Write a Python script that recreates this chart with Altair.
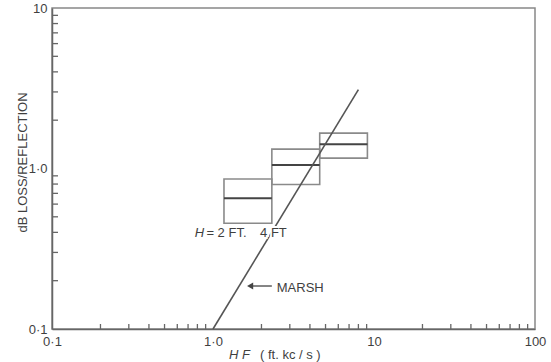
import altair as alt
import pandas as pd

# ---- data ----
hf_low = [1.17, 2.32, 4.6]
hf_high = [2.32, 4.6, 9.1]
loss_low = [0.456, 0.795, 1.16]
loss_mid = [0.652, 1.05, 1.415]
loss_high = [0.86, 1.32, 1.66]

marsh_hf = [1.0, 8.0]
marsh_loss = [0.1, 3.1]

major_ticks = [0.1, 1, 10, 100]
x_tick_labels = ["0·1", "1·0", "10", "100"]
y_major_ticks = [0.1, 1, 10]
y_tick_labels = ["0·1", "1·0", "10"]
minor_x = [0.2, 0.3, 0.4, 0.5, 0.6, 0.7, 0.8, 0.9,
           2, 3, 4, 5, 6, 7, 8, 9,
           20, 30, 40, 50, 60, 70, 80, 90]
minor_y = [0.2, 0.3, 0.4, 0.5, 0.6, 0.7, 0.8, 0.9,
           2, 3, 4, 5, 6, 7, 8, 9]

W, H = 483, 321
FONT = "Liberation Sans"
TXT = "#3f3f3f"
AX = "#666666"


def label_expr(vals, labs):
    expr = "datum.label"
    for v, l in reversed(list(zip(vals, labs))):
        expr = f"datum.value == {v} ? '{l}' : ({expr})"
    return expr


xs = alt.Scale(type="log", domain=[0.1, 100], nice=False)
ys = alt.Scale(type="log", domain=[0.1, 10], nice=False)

x_axis = alt.Axis(values=major_ticks, labelExpr=label_expr(major_ticks, x_tick_labels),
                  ticks=False, tickSize=0, grid=False, title=None, labelFlush=False,
                  labelPadding=6, labelFontSize=13, labelFont=FONT, labelColor=TXT,
                  domainColor=AX, domainWidth=1.5)
y_axis = alt.Axis(values=y_major_ticks, labelExpr=label_expr(y_major_ticks, y_tick_labels),
                  ticks=False, tickSize=0, grid=False, title="dB LOSS/REFLECTION",
                  titleFont=FONT, titleFontSize=13, titleFontWeight="normal", titleColor=TXT,
                  titleX=-30, titleY=154, titleAngle=270, titleAlign="center",
                  titleBaseline="middle",
                  labelFlush=False, labelPadding=5, labelFontSize=13, labelFont=FONT,
                  labelColor=TXT, domainColor=AX, domainWidth=1.5)

boxes = pd.DataFrame({"lo_x": hf_low, "hi_x": hf_high,
                      "lo": loss_low, "mid": loss_mid, "hi": loss_high})
marsh = pd.DataFrame({"hf": marsh_hf, "loss": marsh_loss})

box_layer = alt.Chart(boxes).mark_rect(fillOpacity=0, stroke="#8a8a8a", strokeWidth=1.6).encode(
    x=alt.X("lo_x:Q", scale=xs, axis=x_axis),
    x2="hi_x:Q",
    y=alt.Y("lo:Q", scale=ys, axis=y_axis),
    y2="hi:Q",
)
mid_layer = alt.Chart(boxes).mark_rule(color="#444444", strokeWidth=2).encode(
    x=alt.X("lo_x:Q", scale=xs), x2="hi_x:Q", y=alt.Y("mid:Q", scale=ys)
)
marsh_layer = alt.Chart(marsh).mark_line(color="#555555", strokeWidth=1.6).encode(
    x=alt.X("hf:Q", scale=xs), y=alt.Y("loss:Q", scale=ys)
)

mx = alt.Chart(pd.DataFrame({"v": minor_x})).mark_rule(color=AX, strokeWidth=1.3).encode(
    x=alt.X("v:Q", scale=xs), y=alt.value(H), y2=alt.value(H - 5)
)
my = alt.Chart(pd.DataFrame({"v": minor_y})).mark_rule(color=AX, strokeWidth=1.3).encode(
    y=alt.Y("v:Q", scale=ys), x=alt.value(0), x2=alt.value(6)
)

# annotations (data coordinates)
notes = pd.DataFrame({
    "t": ["= 2 FT.", "4 FT", "MARSH"],
    "x": [0.91, 1.96, 2.49],
    "y": [0.396, 0.396, 0.18],
})
# white knockout under the labels so the line breaks behind them
notes_bg = alt.Chart(notes).mark_text(align="left", baseline="middle", font=FONT,
                                       fontSize=13, color="white", stroke="white",
                                       strokeWidth=4).encode(
    x=alt.X("x:Q", scale=xs), y=alt.Y("y:Q", scale=ys), text="t:N"
)
notes_layer = alt.Chart(notes).mark_text(align="left", baseline="middle", font=FONT,
                                          fontSize=13, color=TXT).encode(
    x=alt.X("x:Q", scale=xs), y=alt.Y("y:Q", scale=ys), text="t:N"
)
h_note = alt.Chart(pd.DataFrame({"t": ["H"], "x": [0.77], "y": [0.396]})).mark_text(
    align="left", baseline="middle", font=FONT, fontSize=13, fontStyle="italic", color=TXT
).encode(x=alt.X("x:Q", scale=xs), y=alt.Y("y:Q", scale=ys), text="t:N")

arrow_shaft = alt.Chart(pd.DataFrame({"a": [1.75], "b": [2.32], "y": [0.1853]})).mark_rule(
    color="#444444", strokeWidth=1.3
).encode(x=alt.X("a:Q", scale=xs), x2="b:Q", y=alt.Y("y:Q", scale=ys))
arrow_head = alt.Chart(pd.DataFrame({"x": [1.7], "y": [0.1853]})).mark_point(
    shape="triangle-left", filled=True, size=50, color="#444444", opacity=1
).encode(x=alt.X("x:Q", scale=xs), y=alt.Y("y:Q", scale=ys))

# x-axis title in two styles
xt1 = alt.Chart(pd.DataFrame({"t": ["H F"]})).mark_text(
    align="left", baseline="middle", font=FONT, fontSize=13, fontStyle="italic", color=TXT
).encode(text="t:N", x=alt.value(177), y=alt.value(347))
xt2 = alt.Chart(pd.DataFrame({"t": ["( ft. kc / s )"]})).mark_text(
    align="left", baseline="middle", font=FONT, fontSize=13, color=TXT
).encode(text="t:N", x=alt.value(208), y=alt.value(347))

chart = alt.layer(
    box_layer, mid_layer, marsh_layer, mx, my, notes_bg, notes_layer, h_note,
    arrow_shaft, arrow_head, xt1, xt2
).properties(
    width=W, height=H,
    autosize=alt.AutoSizeParams(type="none"),
    padding={"left": 52, "top": 8, "right": 16, "bottom": 33},
    background="white",
).configure_view(stroke="#888888", strokeWidth=1.5)

chart.save("out.html", embed_options={"renderer": "svg", "actions": False})
